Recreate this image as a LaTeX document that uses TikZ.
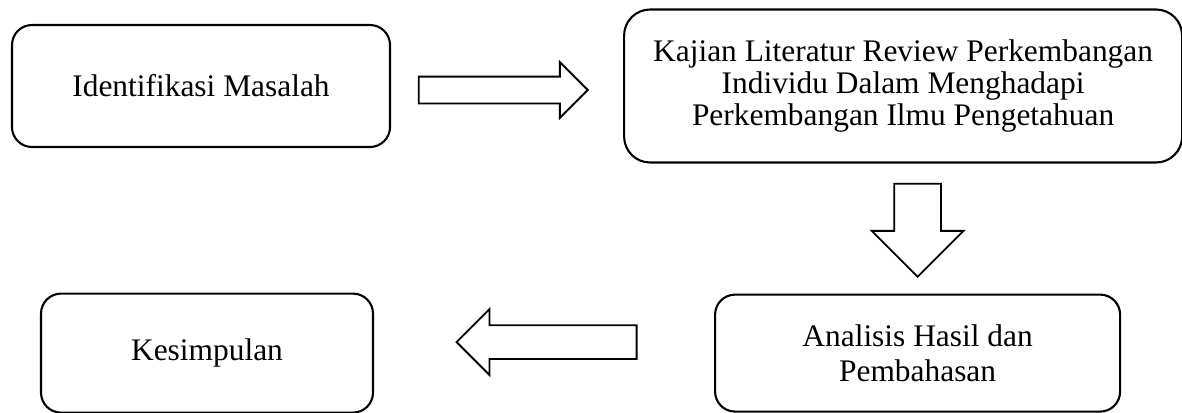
\documentclass[tikz,border=0pt]{standalone}
\usepackage{fontspec}
\setmainfont{Liberation Serif}
\usepackage{tikz}
\usetikzlibrary{positioning,shapes.arrows,calc}
\newlength{\piksel}
\setlength{\piksel}{0.382pt}
\tikzset{
  kotak/.style={rectangle, rounded corners=20\piksel, draw=black, line width=0.8pt,
    align=center, font=\fontsize{12}{12.4}\selectfont},
  panah/.style={single arrow, draw=black, fill=white, line width=0.7pt,
    single arrow head indent=0pt},
}

\begin{document}
\begin{tikzpicture}
  \useasboundingbox (0,0) rectangle (1182\piksel,-412\piksel);
  % kotak-kotak alur
  \node[kotak, minimum width=378\piksel, minimum height=122\piksel] (identifikasi)
    at (201\piksel,-86\piksel) {Identifikasi Masalah};
  \node[kotak, rounded corners=26\piksel, minimum width=558\piksel, minimum height=153\piksel,
    right=232\piksel of identifikasi] (kajian)
    {Kajian Literatur Review Perkembangan\\Individu Dalam Menghadapi\\Perkembangan Ilmu Pengetahuan};
  \node[kotak, minimum width=405\piksel, minimum height=117\piksel, font=\fontsize{12}{13.6}\selectfont,
    below=130\piksel of kajian, xshift=14.5\piksel] (analisis) {Analisis Hasil dan\\Pembahasan};
  \node[kotak, minimum width=332\piksel, minimum height=119\piksel,
    left=340\piksel of analisis] (kesimpulan) {Kesimpulan};
  % panah blok
  \node[panah, minimum height=169\piksel, inner sep=12.5\piksel, single arrow head extend=14.5\piksel]
    (panahA) at ($(identifikasi.east)!0.5!(kajian.west)+(-10.5\piksel,-4\piksel)$) {};
  \node[panah, shape border rotate=270, minimum height=93\piksel, inner sep=22.5\piksel,
    single arrow head extend=22.5\piksel]
    (panahB) at ($(kajian.south -| analisis.north)!0.5!(analisis.north)+(0,10\piksel)$) {};
  \node[panah, shape border rotate=180, minimum height=180\piksel, inner sep=16\piksel,
    single arrow head extend=16\piksel]
    (panahC) at ($(kesimpulan.east)!0.5!(analisis.west)+(11\piksel,11\piksel)$) {};
\end{tikzpicture}
\end{document}
